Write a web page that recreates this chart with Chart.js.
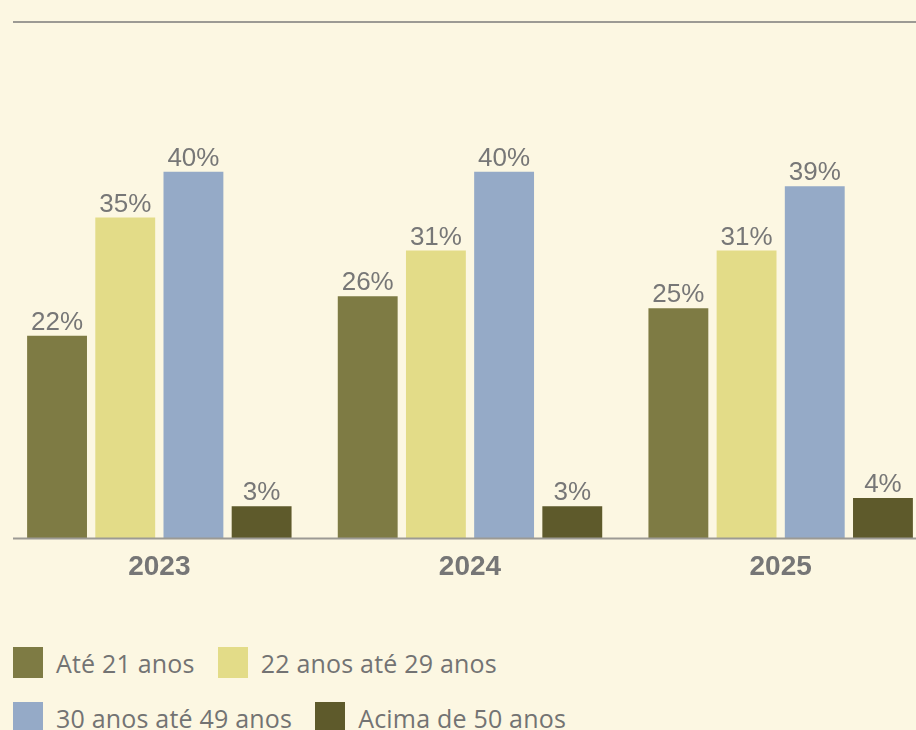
<!DOCTYPE html>
<html>
<head>
<meta charset="utf-8">
<script src="https://cdn.jsdelivr.net/npm/chart.js@4.4.1/dist/chart.umd.min.js"></script>
<style>
  html, body { margin: 0; padding: 0; }
  body { width: 916px; height: 730px; overflow: hidden; background: #fcf7e2; position: relative; font-family: "Open Sans", sans-serif; }
  .topline { position: absolute; top: 21px; left: 13px; right: 0; height: 2px; background: #9c9a94; }
  #barChart { position: absolute; left: 4px; top: 0; }
  .legend { position: absolute; left: 13px; top: 647px; width: 700px; }
  .legend .row { display: flex; align-items: center; height: 31px; margin-bottom: 24px; }
  .legend .item { display: flex; align-items: center; margin-right: 23px; }
  .legend .box { width: 30px; height: 31px; margin-right: 13px; }
  .legend .txt { font-size: 25px; letter-spacing: 0.2px; color: #737373; white-space: nowrap; }
</style>
</head>
<body>
<div class="topline"></div>
<canvas id="barChart" width="932" height="600"></canvas>
<div class="legend" id="legend"></div>

<script>
/* categories and series */
const years = ["2023", "2024", "2025"];
const seriesNames = ["Até 21 anos", "22 anos até 29 anos", "30 anos até 49 anos", "Acima de 50 anos"];
const seriesColors = ["#7e7b44", "#e3dc88", "#95aac7", "#5e5a2b"];

const ate21 = [22.1, 26.4, 25.1];
const de22a29 = [35, 31.4, 31.4];
const de30a49 = [40, 40, 38.4];
const acima50 = [3.5, 3.5, 4.4];

/* labels printed on the bars */
const ate21Labels = ["22%", "26%", "25%"];
const de22a29Labels = ["35%", "31%", "31%"];
const de30a49Labels = ["40%", "40%", "39%"];
const acima50Labels = ["3%", "3%", "4%"];

const seriesValues = [ate21, de22a29, de30a49, acima50];
const seriesLabels = [ate21Labels, de22a29Labels, de30a49Labels, acima50Labels];

/* value labels above each bar */
const valueLabels = {
  id: 'valueLabels',
  afterDatasetsDraw(chart) {
    const ctx = chart.ctx;
    ctx.save();
    ctx.font = "26px 'Liberation Sans', Arial, sans-serif";
    ctx.fillStyle = "#777777";
    ctx.textAlign = "center";
    ctx.textBaseline = "alphabetic";
    chart.data.datasets.forEach((ds, d) => {
      chart.getDatasetMeta(d).data.forEach((bar, i) => {
        ctx.fillText(seriesLabels[d][i], bar.x, bar.y - 6);
      });
    });
    ctx.restore();
  }
};

/* gray baseline under the bars */
const baseLine = {
  id: 'baseLine',
  afterDatasetsDraw(chart) {
    const ctx = chart.ctx;
    const y = chart.chartArea.bottom;
    ctx.save();
    ctx.strokeStyle = "#9c9a94";
    ctx.lineWidth = 2;
    ctx.beginPath();
    ctx.moveTo(9, y);
    ctx.lineTo(chart.width, y);
    ctx.stroke();
    ctx.restore();
  }
};

const ctx = document.getElementById('barChart').getContext('2d');

new Chart(ctx, {
  type: "bar",
  data: {
    labels: years,
    datasets: seriesNames.map((name, i) => ({
      label: name,
      data: seriesValues[i],
      backgroundColor: seriesColors[i],
      borderWidth: 0,
      barPercentage: 0.878,
      categoryPercentage: 0.878
    }))
  },
  options: {
    responsive: false,
    animation: false,
    devicePixelRatio: 1,
    layout: { padding: { top: 80, bottom: 4, left: 0, right: 0 } },
    plugins: {
      legend: { display: false },
      tooltip: { enabled: false }
    },
    scales: {
      x: {
        grid: { display: false, drawTicks: false },
        border: { display: false },
        ticks: {
          padding: 12,
          color: "#767676",
          font: { family: "'Liberation Sans', Arial, sans-serif", size: 28, weight: "bold" }
        }
      },
      y: {
        display: false,
        min: 0,
        max: 50
      }
    }
  },
  plugins: [valueLabels, baseLine]
});

/* legend built from the same arrays */
const legend = document.getElementById('legend');
[[0, 1], [2, 3]].forEach(rowIdx => {
  const row = document.createElement('div');
  row.className = 'row';
  rowIdx.forEach(i => {
    const item = document.createElement('div');
    item.className = 'item';
    item.innerHTML = '<span class="box" style="background:' + seriesColors[i] + '"></span><span class="txt">' + seriesNames[i] + '</span>';
    row.appendChild(item);
  });
  legend.appendChild(row);
});
</script>
</body>
</html>
